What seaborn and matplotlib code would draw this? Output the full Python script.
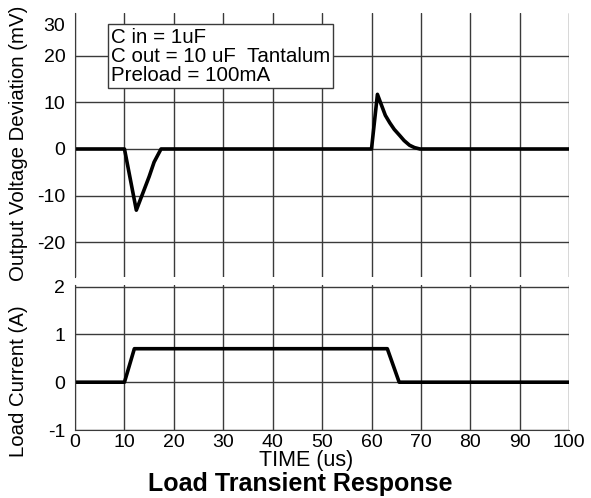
import numpy as np
import pandas as pd
import seaborn as sns
import matplotlib.pyplot as plt

sns.set_style('white')
plt.rcParams['font.family'] = ['Liberation Sans', 'DejaVu Sans']
plt.rcParams['axes.unicode_minus'] = False
plt.rcParams['text.color'] = 'black'
plt.rcParams['xtick.color'] = 'black'
plt.rcParams['ytick.color'] = 'black'

# output voltage deviation (mV) vs time (us)
t_v = [0, 10, 12.4, 15.0, 16.0, 17.4, 60, 61.2, 62.3, 62.8, 63.7, 64.6,
       65.7, 66.6, 67.7, 68.7, 69.8, 100]
v_dev = [0, 0, -13.1, -5.9, -2.8, 0, 0, 11.7, 8.6, 7.2, 5.6, 4.2,
         2.9, 1.8, 0.8, 0.3, 0, 0]

# load current (A) vs time (us)
t_i = [0, 10, 12.0, 63.2, 65.6, 100]
i_load = [0, 0, 0.7, 0.7, 0, 0]

x_ticks = list(range(0, 101, 10))
v_ticks = [-20, -10, 0, 10, 20]
i_ticks = [-1, 0, 1, 2]

note = 'C in = 1uF\nC out = 10 uF  Tantalum\nPreload = 100mA'

fig = plt.figure(figsize=(5.91, 4.98), dpi=100)
ax1 = fig.add_axes([0.127, 0.4438, 0.836, 0.530])
ax2 = fig.add_axes([0.127, 0.1365, 0.836, 0.291])

df_v = pd.DataFrame({'time': t_v, 'dev': v_dev})
df_i = pd.DataFrame({'time': t_i, 'cur': i_load})

sns.lineplot(data=df_v, x='time', y='dev', ax=ax1, color='black', lw=2.6)
sns.lineplot(data=df_i, x='time', y='cur', ax=ax2, color='black', lw=2.6)

grid_kw = dict(color='#3a3a3a', lw=1.0)

# top panel
ax1.set_xlim(0, 100)
ax1.set_ylim(-27.4, 29.1)
ax1.set_xticks(x_ticks)
ax1.set_yticks(v_ticks + [26.7])
ax1.set_yticklabels([str(v) for v in v_ticks] + ['30'])
ax1.grid(True, **grid_kw)
ax1.get_ygridlines()[-1].set_visible(False)
ax1.tick_params(labelbottom=False, length=0, labelsize=14, pad=7)
for s in ['top', 'bottom', 'right']:
    ax1.spines[s].set_visible(False)
ax1.spines['left'].set_color('#3a3a3a')
ax1.set_xlabel('')
ax1.set_ylabel('')
ax1.text(0.072, 0.945, note, transform=ax1.transAxes, fontsize=14.8,
         va='top', ha='left', linespacing=1.0,
         bbox=dict(boxstyle='square,pad=0.15', fc='white', ec='#3a3a3a', lw=1.0))

# bottom panel
ax2.set_xlim(0, 100)
ax2.set_ylim(-1, 2.03)
ax2.set_xticks(x_ticks)
ax2.set_yticks(i_ticks)
ax2.grid(True, **grid_kw)
ax2.tick_params(length=0, labelsize=14, pad=3)
ax2.tick_params(axis='y', pad=7)
for s in ['top', 'right']:
    ax2.spines[s].set_visible(False)
ax2.spines['left'].set_color('#3a3a3a')
ax2.spines['bottom'].set_color('#3a3a3a')
ax2.set_xlabel('')
ax2.set_ylabel('')

# axis labels placed like the original figure
fig.text(0.031, 0.713, 'Output Voltage Deviation (mV)', fontsize=14.7,
         rotation=90, ha='center', va='center')
fig.text(0.031, 0.235, 'Load Current (A)', fontsize=14.7,
         rotation=90, ha='center', va='center')
fig.text(0.518, 0.076, 'TIME (us)', fontsize=15.5, ha='center', va='center')
fig.text(0.508, 0.029, 'Load Transient Response', fontsize=18,
         fontweight='bold', ha='center', va='center')

fig.savefig('out.png', dpi=100)
